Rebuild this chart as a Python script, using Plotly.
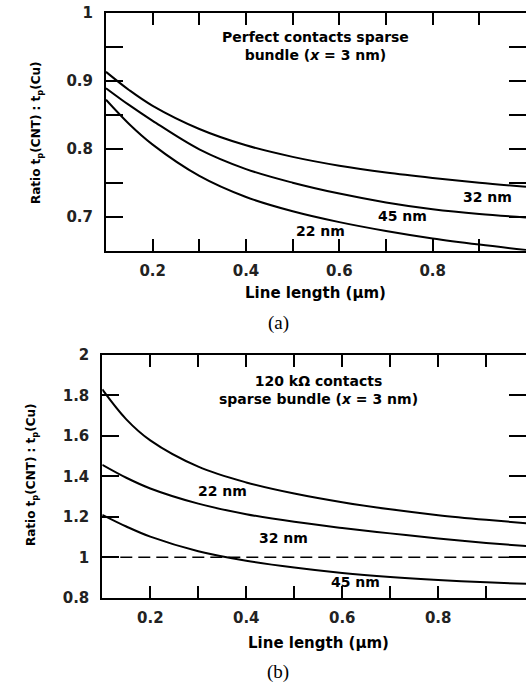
import plotly.graph_objects as go

W, H = 526, 685

# ---------------- data ----------------
line_length = [0.1, 0.15, 0.2, 0.3, 0.4, 0.5, 0.6, 0.7, 0.8, 0.9, 1.0]

# (a) perfect contacts
a_32nm = [0.913, 0.886, 0.863, 0.829, 0.805, 0.788, 0.775, 0.765, 0.757, 0.750, 0.744]
a_45nm = [0.889, 0.864, 0.841, 0.799, 0.770, 0.750, 0.734, 0.721, 0.711, 0.704, 0.699]
a_22nm = [0.872, 0.836, 0.806, 0.760, 0.729, 0.708, 0.692, 0.679, 0.668, 0.659, 0.651]

# (b) 120 kOhm contacts
b_22nm = [1.830, 1.682, 1.578, 1.448, 1.370, 1.315, 1.272, 1.237, 1.208, 1.185, 1.165]
b_32nm = [1.457, 1.393, 1.340, 1.265, 1.213, 1.175, 1.145, 1.118, 1.093, 1.071, 1.052]
b_45nm = [1.210, 1.152, 1.102, 1.030, 0.983, 0.949, 0.922, 0.902, 0.887, 0.876, 0.867]

ref_level = 1.0

FONT = "DejaVu Sans"
TXT = dict(family=FONT, size=15, color="black", weight="bold")


def px(x):
    return x / W


def py(y):
    return 1 - y / H


fig = go.Figure()

line_style = dict(color="black", width=2, shape="spline", smoothing=1.0)
for ys in (a_32nm, a_45nm, a_22nm):
    fig.add_trace(go.Scatter(x=line_length, y=ys, mode="lines", line=line_style,
                             xaxis="x", yaxis="y", showlegend=False, hoverinfo="skip"))
for ys in (b_22nm, b_32nm, b_45nm):
    fig.add_trace(go.Scatter(x=line_length, y=ys, mode="lines", line=line_style,
                             xaxis="x2", yaxis="y2", showlegend=False, hoverinfo="skip"))
fig.add_trace(go.Scatter(x=[line_length[0], line_length[-1]], y=[ref_level, ref_level],
                         mode="lines", line=dict(color="black", width=1.6, dash="12px,6px"),
                         xaxis="x2", yaxis="y2", showlegend=False, hoverinfo="skip"))

common = dict(showline=True, linewidth=2, linecolor="black", mirror="ticks",
              ticks="inside", tickwidth=1.8, tickcolor="black",
              showgrid=False, zeroline=False, automargin=False,
              tickfont=dict(family=FONT, size=15, color="#222", weight="bold"))

fig.update_layout(
    width=W, height=H,
    margin=dict(l=0, r=0, t=0, b=0),
    paper_bgcolor="white", plot_bgcolor="white",
    xaxis=dict(domain=[px(106), 1.0], range=[0.1, 1.0], anchor="y",
               dtick=0.2, tick0=0.2, ticklen=12, ticklabelstandoff=5,
               minor=dict(dtick=0.1, tick0=0.1, ticks="inside", ticklen=12,
                          tickwidth=1.8, tickcolor="black"),
               **common),
    yaxis=dict(domain=[py(250.7), py(12.7)], range=[0.65, 1.0], anchor="x",
               dtick=0.1, tick0=0.7, ticklen=17, ticklabelstandoff=8,
               minor=dict(dtick=0.05, tick0=0.65, ticks="inside", ticklen=17,
                          tickwidth=1.8, tickcolor="black"),
               **common),
    xaxis2=dict(domain=[px(102.3), 1.0], range=[0.1, 0.983], anchor="y2",
                dtick=0.2, tick0=0.2, ticklen=12, ticklabelstandoff=5,
                minor=dict(dtick=0.1, tick0=0.1, ticks="inside", ticklen=12,
                           tickwidth=1.8, tickcolor="black"),
                **common),
    yaxis2=dict(domain=[py(597.7), py(355)], range=[0.8, 2.0], anchor="x2",
                dtick=0.2, tick0=0.8, ticklen=17, ticklabelstandoff=8,
                **common),
)

ann = []


def add_text(text, x, y, size=15, font=None, angle=0):
    f = dict(TXT)
    f["size"] = size
    if font:
        f = font
    ann.append(dict(text=text, x=px(x), y=py(y), xref="paper", yref="paper",
                    xanchor="center", yanchor="middle", showarrow=False,
                    font=f, textangle=angle))


# panel (a)
add_text("Perfect contacts sparse<br>bundle (<i>x</i> = 3 nm)", 315, 46, 14)
add_text("32 nm", 487, 197, 14)
add_text("45 nm", 402, 216, 14)
add_text("22 nm", 320, 231, 14)
add_text("Line length (µm)", 315, 293, 15)
add_text("Ratio t<sub>p</sub>(CNT) : t<sub>p</sub>(Cu)", 37, 133, 12, angle=-90)
add_text("(a)", 278, 323, font=dict(family="Liberation Serif", size=19, color="black"))

# panel (b)
add_text("120 kΩ contacts<br>sparse bundle (<i>x</i> = 3 nm)", 318, 390, 14)
add_text("22 nm", 222, 491, 14)
add_text("32 nm", 283, 538, 14)
add_text("45 nm", 355, 582, 14)
add_text("Line length (µm)", 318, 643, 15)
add_text("Ratio t<sub>p</sub>(CNT) : t<sub>p</sub>(Cu)", 32, 475, 12, angle=-90)
add_text("(b)", 278, 672, font=dict(family="Liberation Serif", size=19, color="black"))

fig.update_layout(annotations=ann)

# remove the browser's default 8px body margin so the figure fills the window exactly
fig.write_html("out.html",
               config={"displayModeBar": False},
               post_script="document.body.style.margin='0';document.body.style.overflow='hidden';")
